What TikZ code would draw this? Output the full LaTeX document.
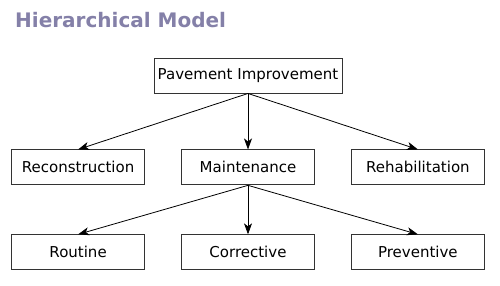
\documentclass[tikz,border=0pt]{standalone}
\usepackage{fontspec}
\setmainfont{DejaVu Sans}
\usepackage{tikz}
\usetikzlibrary{positioning, arrows.meta}

\definecolor{titlegray}{HTML}{8480A8}
\definecolor{boxline}{HTML}{333333}

\begin{document}
\begin{tikzpicture}[
  x=1pt, y=1pt,
  font=\fontsize{15}{18}\selectfont,
  level/.style={
    rectangle,
    draw=boxline,
    line width=0.9pt,
    minimum width=133pt,
    minimum height=35pt,
    inner sep=0pt,
  },
  link/.style={
    -{Stealth[length=11pt, width=8pt, inset=3pt]},
    line width=0.8pt,
  },
]
\useasboundingbox (0,0) rectangle (500,-286);

% --- Title ---
\node[anchor=base west, inner sep=0pt, text=titlegray,
      font=\fontsize{20}{24}\selectfont\bfseries] (Title) at (15,-27.5) {Hierarchical Model};

% --- Top level ---
\node[level, minimum width=188pt] (Improvement) at (248,-75.5) {Pavement Improvement};

% --- Second level ---
\node[level, below=56pt of Improvement.south, anchor=north] (Maintenance) {Maintenance};
\node[level, left=36pt of Maintenance] (Reconstruction) {Reconstruction};
\node[level, right=36pt of Maintenance] (Rehabilitation) {Rehabilitation};

% --- Third level ---
\node[level, below=49pt of Maintenance] (Corrective) {Corrective};
\node[level, left=36pt of Corrective] (Routine) {Routine};
\node[level, right=36pt of Corrective] (Preventive) {Preventive};

% Arrows from Pavement Improvement down to its kinds
\draw[link] (Improvement.south) -- (Reconstruction.north);
\draw[link] (Improvement.south) -- (Maintenance.north);
\draw[link] (Improvement.south) -- (Rehabilitation.north);
% Arrows from Maintenance down to its kinds
\draw[link] (Maintenance.south) -- (Routine.north);
\draw[link] (Maintenance.south) -- (Corrective.north);
\draw[link] (Maintenance.south) -- (Preventive.north);
\end{tikzpicture}
\end{document}
